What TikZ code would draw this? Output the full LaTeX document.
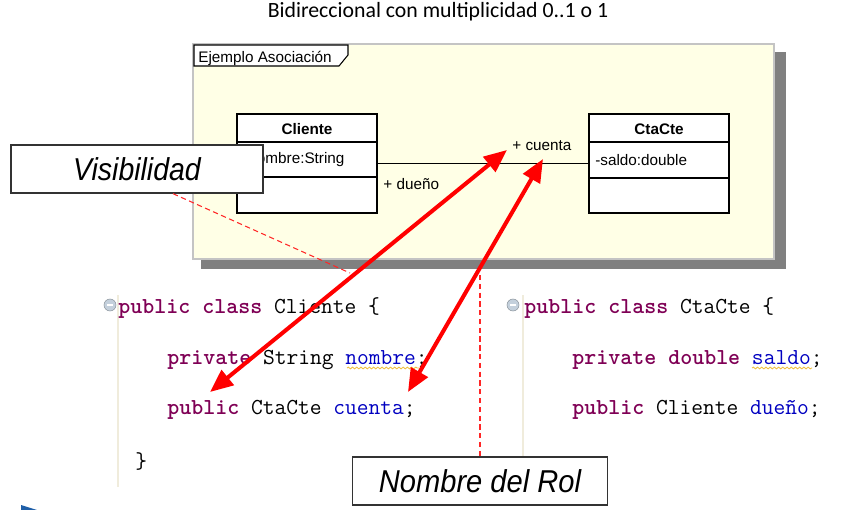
\documentclass[tikz,border=0pt]{standalone}
\usepackage{fontspec}
\setmainfont{Liberation Sans}
\newfontfamily\titlefont{Carlito}
\usetikzlibrary{arrows.meta,positioning,decorations.pathmorphing}
\definecolor{marco}{HTML}{FFFFE6}
\definecolor{sombra}{HTML}{808080}
\definecolor{borde}{HTML}{C4C4C4}
\definecolor{clave}{HTML}{7F0055}
\definecolor{ident}{HTML}{0000C0}
\definecolor{guia}{HTML}{F0ECDC}
\definecolor{subraya}{HTML}{F0C040}
\definecolor{icono}{HTML}{C4D0DC}
\definecolor{azul}{HTML}{1F5FA8}
\newcommand{\kw}[1]{\textcolor{clave}{\textbf{#1}}}
\newcommand{\idf}[1]{\textcolor{ident}{#1}}

\begin{document}
\begin{tikzpicture}[x=0.02cm, y=-0.02cm,
    clase/.style = {draw, fill=white, line width=0.8pt, minimum width=2.8cm, minimum height=1.98cm, inner sep=0},
    uml/.style = {inner sep=0, font=\fontsize{8.7}{10}\selectfont},
    umlbold/.style = {inner sep=0, font=\fontsize{8.7}{10}\selectfont\bfseries},
    codigo/.style = {anchor=west, inner sep=0, font=\ttfamily\fontsize{13}{15}\selectfont},
    nota/.style = {draw=black!80, fill=white, line width=0.8pt, minimum height=0.96cm, inner sep=0, font=\fontsize{18}{20}\selectfont\itshape},
    guiarroja/.style = {red!85, dash pattern=on 3pt off 2pt, line width=0.6pt},
    flecha/.style = {red, line width=2.3pt, {Triangle[length=0.46cm,width=0.38cm]}-{Triangle[length=0.46cm,width=0.38cm]}}]
    \useasboundingbox (0,0) rectangle (852,510);

    \node[font=\titlefont\fontsize{12.4}{14}\selectfont] (titulo) at (438,12) {Bidireccional con multiplicidad 0..1 o 1};

    % marco del diagrama
    \fill[sombra] (201,52) rectangle (786,269);
    \draw[borde, fill=marco, line width=1.6pt] (193,44) rectangle (774,259);
    \draw[fill=white, line width=0.6pt] (194,45) -- (348,45) -- (348,55) -- (339,66) -- (194,66) -- cycle;
    \node[uml, anchor=west] (marco) at (198,58) {Ejemplo Asociación};

    % clases
    \node[clase] (cliente) at (307,163.5) {};
    \node[clase] (ctacte) at (659,163.5) {};
    \draw[line width=0.8pt] (cliente.west |- 0,142) -- (cliente.east |- 0,142);
    \draw[line width=0.8pt] (cliente.west |- 0,177) -- (cliente.east |- 0,177);
    \draw[line width=0.8pt] (ctacte.west |- 0,142) -- (ctacte.east |- 0,142);
    \draw[line width=0.8pt] (ctacte.west |- 0,178) -- (ctacte.east |- 0,178);
    \node[umlbold] (nomcliente) at (307,129) {Cliente};
    \node[umlbold] (nomctacte) at (659,129) {CtaCte};
    \node[uml, anchor=west] (atrcliente) at (243,160) {-nombre:String};
    \node[uml, anchor=west] (atrctacte) at (595,160) {-saldo:double};

    \draw[line width=0.6pt] (cliente.east) -- (ctacte.west);
    \node[uml, anchor=west] (cuenta) at (512,146) {+ cuenta};
    \node[uml, anchor=west] (dueno) at (383,184) {+ dueño};

    % codigo java
    \draw[guia, line width=1pt] (118,295) -- (118,487);
    \draw[guia, line width=1pt] (523,295) -- (523,458);
    \node[circle, fill=icono, draw=icono!70!black, line width=0.3pt, minimum size=0.24cm, inner sep=0] (ic1) at (110,305) {};
    \node[circle, fill=icono, draw=icono!70!black, line width=0.3pt, minimum size=0.24cm, inner sep=0] (ic2) at (513,305) {};
    \draw[white, line width=0.7pt] (ic1.center) +(-3,0) -- +(3,0);
    \draw[white, line width=0.7pt] (ic2.center) +(-3,0) -- +(3,0);

    \node[codigo] (l1) at (118,308) {\kw{public class} Cliente \{};
    \node[codigo] (l2) at (167,360) {\kw{private} String \idf{nombre};};
    \node[codigo] (l3) at (167,410) {\kw{public} CtaCte \idf{cuenta};};
    \node[codigo] (l4) at (135,462) {\}};
    \node[codigo] (r1) at (524,308) {\kw{public class} CtaCte \{};
    \node[codigo] (r2) at (572,360) {\kw{private double} \idf{saldo};};
    \node[codigo] (r3) at (572,410) {\kw{public} Cliente \idf{dueño};};
    \draw[subraya, line width=0.5pt, decorate, decoration={snake, amplitude=0.5pt, segment length=2.4pt}] (347,368) -- (419,368);
    \draw[subraya, line width=0.5pt, decorate, decoration={snake, amplitude=0.5pt, segment length=2.4pt}] (752,368) -- (812,368);

    % notas
    \node[nota, minimum width=5.04cm] (visib) at (137,169) {\scalebox{0.9}[1]{Visibilidad}};
    \node[nota, minimum width=5.1cm] (rol) at (480,481) {\scalebox{0.92}[1]{Nombre del Rol}};
    \coordinate (finvisib) at (350,273);
    \draw[guiarroja] (visib.south -| 173,0) -- (finvisib);
    \draw[guiarroja] (rol.north |- 0,275) -- (rol.north);

    \fill[azul] (21,505) -- (37,510) -- (21,510) -- cycle;

    % flechas
    \coordinate (p1) at (210,392);
    \coordinate (q1) at (507,150);
    \coordinate (p2) at (408,392);
    \coordinate (q2) at (543,159);
    \draw[flecha] (p1) -- (q1);
    \draw[flecha] (p2) -- (q2);
\end{tikzpicture}
\end{document}
